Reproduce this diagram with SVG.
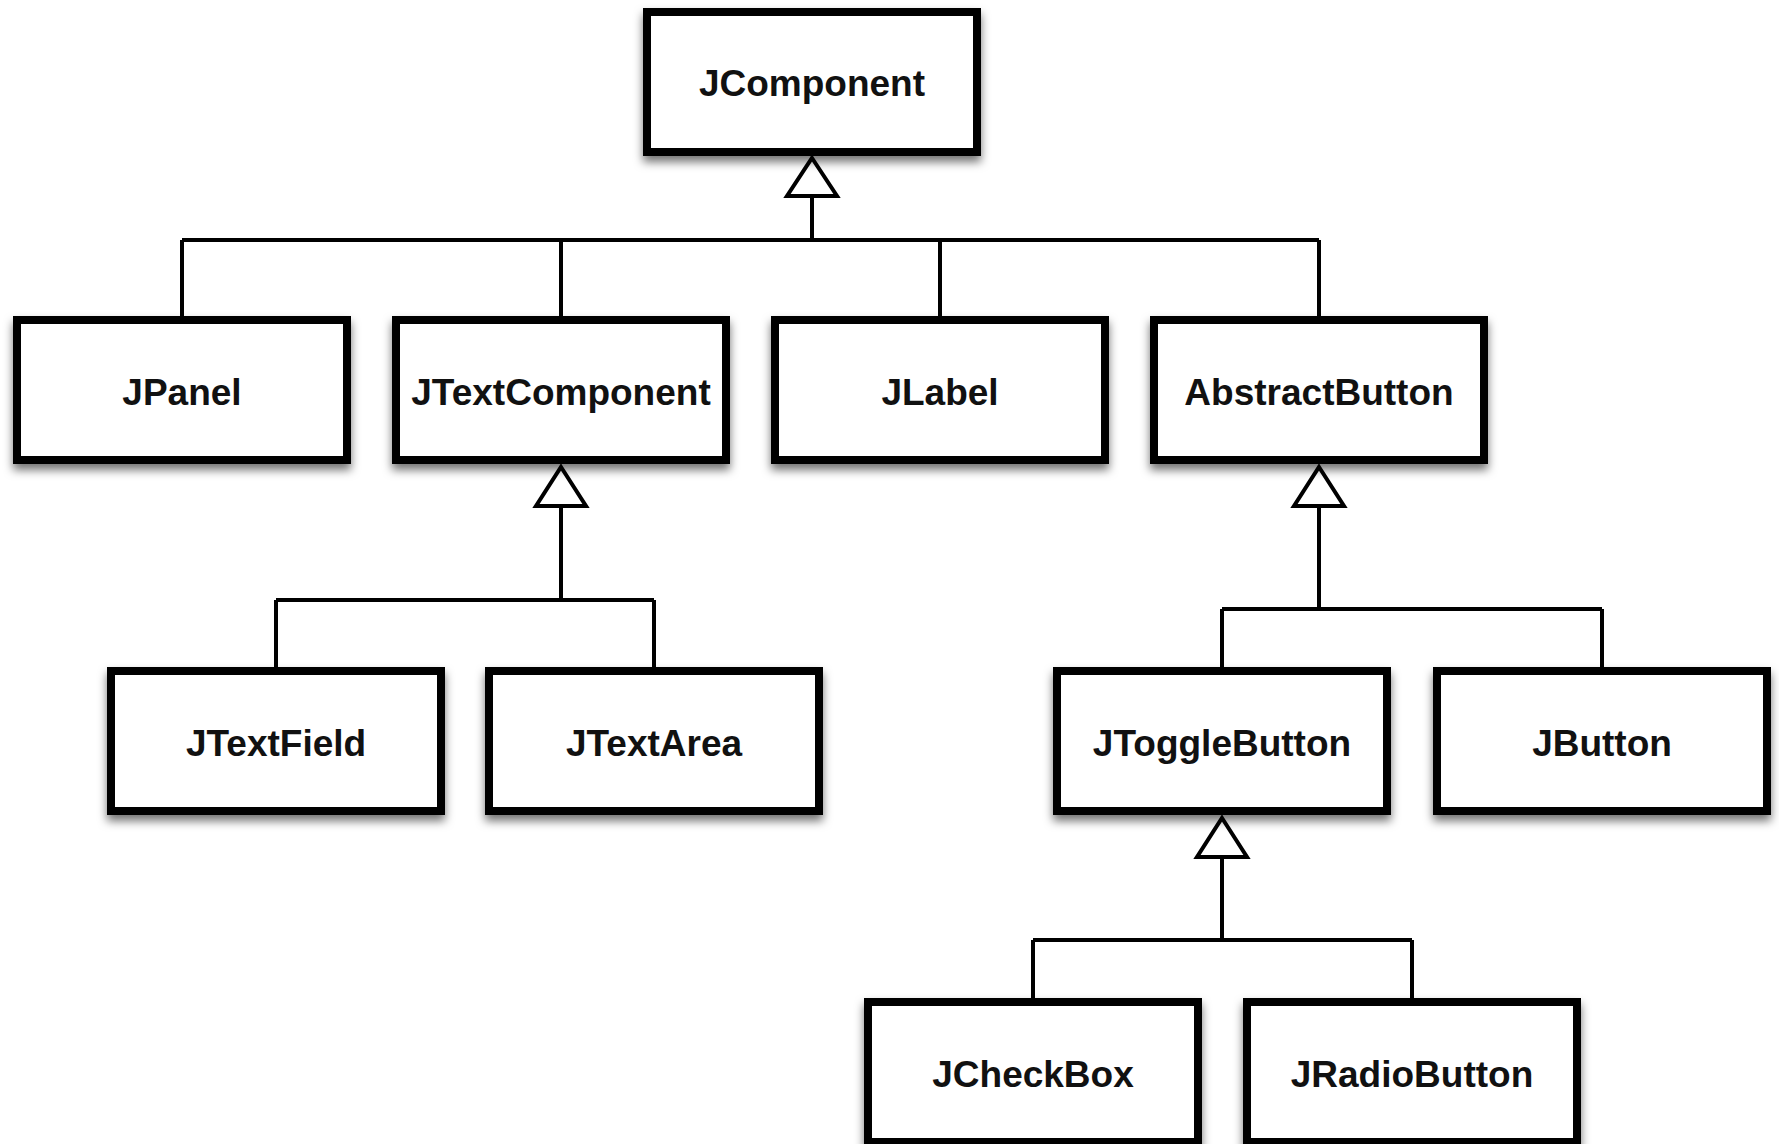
<svg xmlns="http://www.w3.org/2000/svg" width="1779" height="1144" viewBox="0 0 1779 1144">
<style>
  .box { fill: #ffffff; stroke: #000000; stroke-width: 8; filter: url(#shadow); }
  .lbl { font-family: "Liberation Sans", Arial, sans-serif; font-weight: bold; font-size: 37px; fill: #111111; text-anchor: middle; }
  .conn { fill: none; stroke: #000000; stroke-width: 4; stroke-linejoin: miter; }
  .tri { fill: #ffffff; stroke: #000000; stroke-width: 4; stroke-linejoin: miter; }
</style>
<defs>
  <filter id="shadow" x="-10%" y="-15%" width="120%" height="140%">
    <feDropShadow dx="0" dy="6" stdDeviation="5" flood-color="#000000" flood-opacity="0.55"/>
  </filter>
</defs>
<rect x="0" y="0" width="1779" height="1144" fill="#ffffff"/>
<g id="connectors">
  <path class="conn" d="M812 196 V240 M182 240 H1319 M182 240 V316 M561 240 V316 M940 240 V316 M1319 240 V316"/>
  <polygon class="tri" points="812,158 837,196 787,196"/>
  <path class="conn" d="M561 506 V600 M276 600 H654 M276 600 V667 M654 600 V667"/>
  <polygon class="tri" points="561,467 586,506 536,506"/>
  <path class="conn" d="M1319 506 V609 M1222 609 H1602 M1222 609 V667 M1602 609 V667"/>
  <polygon class="tri" points="1319,467 1344,506 1294,506"/>
  <path class="conn" d="M1222 857 V940 M1033 940 H1412 M1033 940 V998 M1412 940 V998"/>
  <polygon class="tri" points="1222,818 1247,857 1197,857"/>
</g>
<g id="JComponent"><rect class="box" x="647" y="12" width="330" height="140"/><text class="lbl" x="812" y="96">JComponent</text></g>
<g id="JPanel"><rect class="box" x="17" y="320" width="330" height="140"/><text class="lbl" x="182" y="405">JPanel</text></g>
<g id="JTextComponent"><rect class="box" x="396" y="320" width="330" height="140"/><text class="lbl" x="561" y="405">JTextComponent</text></g>
<g id="JLabel"><rect class="box" x="775" y="320" width="330" height="140"/><text class="lbl" x="940" y="405">JLabel</text></g>
<g id="AbstractButton"><rect class="box" x="1154" y="320" width="330" height="140"/><text class="lbl" x="1319" y="405">AbstractButton</text></g>
<g id="JTextField"><rect class="box" x="111" y="671" width="330" height="140"/><text class="lbl" x="276" y="756">JTextField</text></g>
<g id="JTextArea"><rect class="box" x="489" y="671" width="330" height="140"/><text class="lbl" x="654" y="756">JTextArea</text></g>
<g id="JToggleButton"><rect class="box" x="1057" y="671" width="330" height="140"/><text class="lbl" x="1222" y="756">JToggleButton</text></g>
<g id="JButton"><rect class="box" x="1437" y="671" width="330" height="140"/><text class="lbl" x="1602" y="756">JButton</text></g>
<g id="JCheckBox"><rect class="box" x="868" y="1002" width="330" height="140"/><text class="lbl" x="1033" y="1087">JCheckBox</text></g>
<g id="JRadioButton"><rect class="box" x="1247" y="1002" width="330" height="140"/><text class="lbl" x="1412" y="1087">JRadioButton</text></g>
</svg>
